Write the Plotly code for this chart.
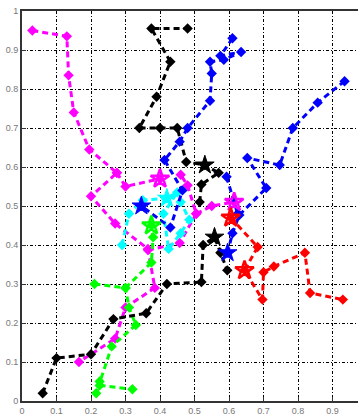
import plotly.graph_objects as go

# ---- data ----
mag1_x = [0.03, 0.13, 0.135, 0.15, 0.195, 0.275, 0.20, 0.27, 0.365, 0.385, 0.30, 0.27, 0.165]
mag1_y = [0.95, 0.935, 0.835, 0.74, 0.645, 0.585, 0.525, 0.455, 0.39, 0.29, 0.24, 0.16, 0.10]
mag2_x = [0.275, 0.30, 0.40]
mag2_y = [0.585, 0.55, 0.57]
mag3_x = [0.365, 0.457, 0.505, 0.48, 0.46]
mag3_y = [0.387, 0.405, 0.48, 0.553, 0.58]
mag4_x = [0.505, 0.55, 0.615]
mag4_y = [0.48, 0.50, 0.51]

blk1_x = [0.06, 0.10, 0.20, 0.265, 0.36, 0.42, 0.52, 0.525, 0.558, 0.575, 0.595]
blk1_y = [0.02, 0.11, 0.12, 0.21, 0.225, 0.30, 0.305, 0.40, 0.42, 0.38, 0.335]
blk2_x = [0.515, 0.52, 0.57, 0.53, 0.476, 0.45, 0.40, 0.34, 0.39, 0.43, 0.375, 0.48]
blk2_y = [0.51, 0.555, 0.585, 0.605, 0.613, 0.70, 0.70, 0.70, 0.78, 0.87, 0.955, 0.955]

blu1_x = [0.61, 0.575, 0.635, 0.585, 0.545, 0.55, 0.545, 0.48, 0.457, 0.413, 0.465, 0.43, 0.346]
blu1_y = [0.93, 0.885, 0.895, 0.875, 0.87, 0.84, 0.77, 0.70, 0.665, 0.618, 0.54, 0.445, 0.50]
blu2_x = [0.935, 0.857, 0.785, 0.747, 0.653, 0.708, 0.63, 0.61, 0.596]
blu2_y = [0.82, 0.765, 0.70, 0.605, 0.623, 0.546, 0.477, 0.43, 0.38]
blu3_x = [0.593, 0.625]
blu3_y = [0.575, 0.48]

cyn_x = [0.29, 0.31, 0.35, 0.42, 0.45, 0.41, 0.425, 0.46, 0.485, 0.46]
cyn_y = [0.40, 0.48, 0.515, 0.52, 0.535, 0.48, 0.39, 0.43, 0.465, 0.51]

grn1_x = [0.21, 0.30, 0.31, 0.33, 0.26, 0.225, 0.215, 0.225, 0.32]
grn1_y = [0.30, 0.29, 0.24, 0.195, 0.14, 0.05, 0.02, 0.04, 0.03]
grn2_x = [0.30, 0.375, 0.38, 0.375]
grn2_y = [0.29, 0.355, 0.42, 0.45]

red_x = [0.605, 0.683, 0.645, 0.697, 0.70, 0.73, 0.82, 0.835, 0.93]
red_y = [0.47, 0.395, 0.335, 0.26, 0.33, 0.345, 0.38, 0.277, 0.26]

# star (final position) markers
star_filled_x = [0.558, 0.53, 0.346, 0.596, 0.42]
star_filled_y = [0.42, 0.605, 0.50, 0.38, 0.52]
star_filled_c = ["black", "black", "blue", "blue", "cyan"]
star_open_x = [0.40, 0.615, 0.375, 0.605, 0.645]
star_open_y = [0.57, 0.51, 0.45, 0.47, 0.335]
star_open_c = ["magenta", "magenta", "lime", "red", "red"]

ticks = [0, 0.1, 0.2, 0.3, 0.4, 0.5, 0.6, 0.7, 0.8, 0.9, 1.0]
tick_text = ["0", "0.1", "0.2", "0.3", "0.4", "0.5", "0.6", "0.7", "0.8", "0.9", "1"]

fig = go.Figure()

paths = [
    (mag1_x, mag1_y, "magenta"), (mag2_x, mag2_y, "magenta"),
    (mag3_x, mag3_y, "magenta"), (mag4_x, mag4_y, "magenta"),
    (grn1_x, grn1_y, "lime"), (grn2_x, grn2_y, "lime"),
    (cyn_x, cyn_y, "cyan"),
    (blk1_x, blk1_y, "black"), (blk2_x, blk2_y, "black"),
    (blu1_x, blu1_y, "blue"), (blu2_x, blu2_y, "blue"), (blu3_x, blu3_y, "blue"),
    (red_x, red_y, "red"),
]
for xs, ys, c in paths:
    fig.add_trace(go.Scatter(
        x=xs, y=ys, mode="lines+markers",
        line=dict(color=c, width=3, dash="6px,4px"),
        marker=dict(symbol="diamond", size=8, color=c),
        showlegend=False, hoverinfo="skip"))

fig.add_trace(go.Scatter(
    x=star_filled_x, y=star_filled_y, mode="markers",
    marker=dict(symbol="star", size=14, color=star_filled_c,
                line=dict(color=star_filled_c, width=1)),
    showlegend=False, hoverinfo="skip"))
fig.add_trace(go.Scatter(
    x=star_open_x, y=star_open_y, mode="markers",
    marker=dict(symbol="star-open", size=14, color=star_open_c,
                line=dict(color=star_open_c, width=2.5)),
    showlegend=False, hoverinfo="skip"))

axis_common = dict(
    showgrid=True, gridcolor="black", gridwidth=1, griddash="3px,2px,1px,2px",
    zeroline=False, showline=True, linecolor="#333333", linewidth=2,
    ticks="inside", ticklen=4, tickcolor="#333333",
    tickfont=dict(family="Liberation Sans Narrow, Arial Narrow, sans-serif",
                  size=9, color="#777777"),
)

fig.update_xaxes(range=[0, 336 / 345], tickvals=ticks[:10], ticktext=tick_text[:10],
                 mirror=True, **axis_common)
fig.update_yaxes(range=[0, 1], tickvals=ticks, ticktext=tick_text, **axis_common)

fig.update_layout(
    width=358, height=415,
    margin=dict(l=22, r=0, t=11, b=14),
    paper_bgcolor="white", plot_bgcolor="white",
)

fig.write_html("out.html")
